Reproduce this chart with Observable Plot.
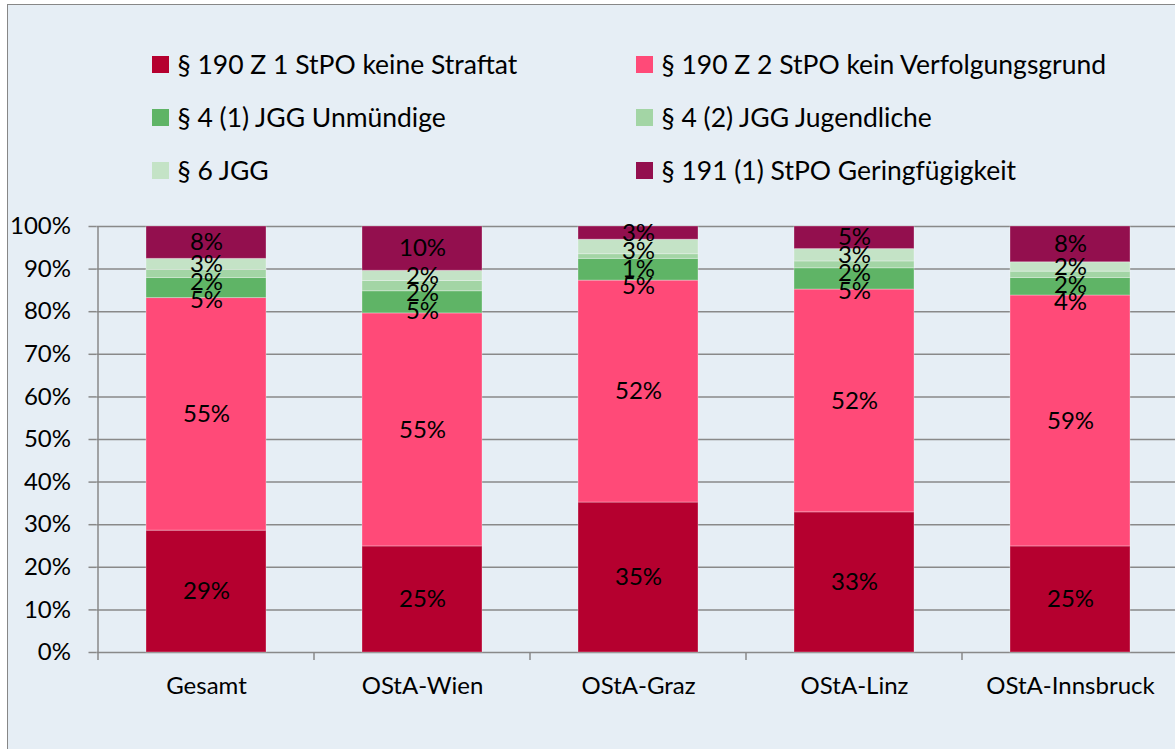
<!DOCTYPE html>
<html>
<head>
<meta charset="utf-8">
<script src="https://cdn.jsdelivr.net/npm/d3@7"></script>
<script src="https://cdn.jsdelivr.net/npm/@observablehq/plot@0.6"></script>
<style>
  html, body { margin: 0; padding: 0; background: #ffffff; overflow: hidden; }
  #frame {
    position: absolute; left: 7px; top: 4px;
    width: 1200px; height: 800px;
    border: 1.5px solid #878787;
    background: #e6eef5;
    font-family: Lato, "Open Sans", sans-serif;
  }
  #legend {
    box-sizing: border-box;
    height: 194.5px;
    padding-top: 32.5px;
    padding-left: 143.5px;
    display: grid;
    grid-template-columns: 484px auto;
    grid-auto-rows: 53px;
  }
  .item { display: flex; align-items: center; font-size: 26.5px; color: #000; white-space: nowrap; }
  .swatch { width: 17px; height: 17px; margin-right: 9px; flex: none; }
  #chart svg { display: block; }
</style>
</head>
<body>
<div id="frame">
  <div id="legend"></div>
  <div id="chart"></div>
</div>
<script>
// ---- data ----
const categories = ["Gesamt", "OStA-Wien", "OStA-Graz", "OStA-Linz", "OStA-Innsbruck"];
const seriesNames = [
  "§ 190 Z 1 StPO keine Straftat",
  "§ 190 Z 2 StPO kein Verfolgungsgrund",
  "§ 4 (1) JGG Unmündige",
  "§ 4 (2) JGG Jugendliche",
  "§ 6 JGG",
  "§ 191 (1) StPO Geringfügigkeit"
];
// percent shares per category (same order as categories)
const keineStraftat     = [28.6, 24.9, 35.2, 32.9, 24.9];
const keinVerfolgung    = [54.6, 54.7, 52.1, 52.3, 58.9];
const jggUnmuendige     = [4.7, 5.2, 5.1, 5.0, 4.1];
const jggJugendliche    = [1.9, 2.4, 1.1, 1.6, 1.5];
const jgg6              = [2.6, 2.4, 3.4, 2.9, 2.2];
const geringfuegigkeit  = [7.6, 10.4, 3.1, 5.3, 8.4];
const yTicks = [0, 10, 20, 30, 40, 50, 60, 70, 80, 90, 100];
const colors = ["#b5002f", "#ff4a78", "#5fb466", "#a3d5a5", "#c4e3c6", "#930f4e"];

const seriesValues = [keineStraftat, keinVerfolgung, jggUnmuendige, jggJugendliche, jgg6, geringfuegigkeit];
const data = [];
seriesNames.forEach((s, si) => {
  categories.forEach((c, ci) => data.push({cat: c, series: s, value: seriesValues[si][ci]}));
});

// label positions: segment midpoints, spread from the top down so stacked
// small labels keep a minimum gap (in percent units), like the spreadsheet layout
const minGap = 4.2;
const labels = [];
categories.forEach((c, ci) => {
  let base = 0;
  const mids = seriesNames.map((s, si) => {
    const v = seriesValues[si][ci];
    const m = {cat: c, series: s, value: v, pos: base + v / 2};
    base += v;
    return m;
  });
  for (let i = mids.length - 2; i >= 0; i--) {
    if (mids[i + 1].pos - mids[i].pos < minGap) mids[i].pos = mids[i + 1].pos - minGap;
  }
  labels.push(...mids);
});

// ---- legend (HTML, above the SVG) ----
const legend = document.getElementById("legend");
seriesNames.forEach((name, i) => {
  const it = document.createElement("div");
  it.className = "item";
  const sw = document.createElement("span");
  sw.className = "swatch";
  sw.style.background = colors[i];
  const tx = document.createElement("span");
  tx.textContent = name;
  it.appendChild(sw); it.appendChild(tx);
  legend.appendChild(it);
});

const gridColor = "#898989";

// x tick marks at band boundaries + y axis line
function boundaryTicks(...args) {
  const scales = args.find(a => a && typeof a.x === "function" && typeof a.y === "function");
  const {x, y} = scales;
  const bw = x.bandwidth ? x.bandwidth() : 0;
  const step = x(categories[1]) - x(categories[0]);
  const y0 = y(0);
  const g = d3.create("svg:g").attr("stroke", gridColor).attr("stroke-width", 1.5);
  categories.forEach(c => {
    const bx = x(c) + bw / 2 - step / 2;
    g.append("line").attr("x1", bx).attr("x2", bx).attr("y1", y0).attr("y2", y0 + 8);
  });
  const last = x(categories[categories.length - 1]) + bw / 2 + step / 2;
  g.append("line").attr("x1", last).attr("x2", last).attr("y1", y0).attr("y2", y0 + 8);
  const ax = x(categories[0]) + bw / 2 - step / 2;
  g.append("line").attr("x1", ax).attr("x2", ax).attr("y1", y(100)).attr("y2", y0);
  return g.node();
}

const chart = Plot.plot({
  width: 1190,
  height: 560,
  marginLeft: 88.5,
  marginRight: 19,
  marginTop: 26,
  marginBottom: 108,
  style: {fontFamily: "Lato, 'Open Sans', sans-serif", fontSize: "24px", background: "transparent", color: "#000"},
  x: {domain: categories, paddingInner: 0.446, paddingOuter: 0.223, label: null},
  y: {domain: [0, 100], label: null},
  color: {domain: seriesNames, range: colors},
  marks: [
    Plot.gridY({ticks: yTicks, stroke: gridColor, strokeOpacity: 1, strokeWidth: 1.5}),
    Plot.barY(data, {x: "cat", y: "value", fill: "series", order: seriesNames,
      stroke: "white", strokeOpacity: 0.3, strokeWidth: 1}),
    Plot.text(labels, {x: "cat", y: "pos",
      text: d => Math.round(d.value) + "%", fill: "#000", fontSize: 24}),
    Plot.axisY({ticks: yTicks, tickFormat: d => d + "%", tickSize: 8, tickPadding: 18,
      stroke: gridColor, strokeWidth: 1.5, fill: "#000", fontSize: 24, label: null}),
    Plot.axisX({tickSize: 0, tickPadding: 24, fill: "#000", fontSize: 24, label: null}),
    boundaryTicks
  ]
});
document.getElementById("chart").appendChild(chart);
</script>
</body>
</html>
